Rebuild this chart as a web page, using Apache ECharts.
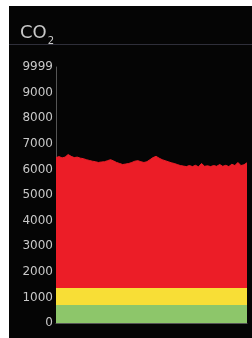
<!DOCTYPE html>
<html>
<head>
<meta charset="utf-8">
<script src="https://cdn.jsdelivr.net/npm/echarts@6/dist/echarts.min.js"></script>
<style>
    html, body { margin: 0; padding: 0; background: #fff; }
    #chart { width: 252px; height: 338px; }
</style>
</head>
<body>
<div id="chart"></div>
<script>
// CO2 readings (ppm), left to right
var co2Values = [
    6460, 6500, 6450, 6480, 6580, 6510, 6460, 6480, 6440, 6420,
    6380, 6350, 6320, 6300, 6270, 6290, 6300, 6340, 6380, 6330,
    6270, 6230, 6190, 6210, 6230, 6270, 6320, 6340, 6300, 6270,
    6300, 6380, 6460, 6510, 6440, 6380, 6340, 6300, 6260, 6230,
    6190, 6150, 6130, 6110, 6150, 6110, 6160, 6100, 6230, 6120,
    6140, 6110, 6150, 6120, 6190, 6120, 6160, 6110, 6200, 6150,
    6270, 6150, 6180, 6260
]
var categories = co2Values.map(function (v, i) { return String(i + 1) })
// colour bands: good / moderate / bad
var bandLimits = [700, 1350]
var bandColors = ['#8DC66A', '#F8DE36', '#EC1D27']
var yTicks = [0, 1000, 2000, 3000, 4000, 5000, 6000, 7000, 8000, 9000, 10000]
var yTopLabel = '9999'

var chart = echarts.init(document.getElementById('chart'))
var option = {
    backgroundColor: '#fff',
    animation: false,
    graphic: [
        { type: 'rect', z: -10, shape: { x: 9, y: 6, width: 243, height: 332 }, style: { fill: '#050505' } },
        { type: 'line', z: -5, shape: { x1: 9, y1: 44.5, x2: 252, y2: 44.5 }, style: { stroke: '#2f2f3a', lineWidth: 1 } }
    ],
    title: {
        text: '{a|CO}{b|2}',
        left: 15,
        top: 18,
        textStyle: {
            fontWeight: 'normal',
            rich: {
                a: { fontSize: 18, fontWeight: 'normal', color: '#c8c8c8', fontFamily: 'DejaVu Sans', lineHeight: 20 },
                b: { fontSize: 10, fontWeight: 'normal', color: '#c8c8c8', fontFamily: 'DejaVu Sans', lineHeight: 20, verticalAlign: 'bottom', padding: [0, 0, -3, 1] }
            }
        }
    },
    grid: { left: 56, right: 5, top: 67, bottom: 15 },
    visualMap: {
        type: 'piecewise',
        show: false,
        dimension: 1,
        seriesIndex: 0,
        pieces: [
            { lte: bandLimits[0], color: bandColors[0] },
            { gt: bandLimits[0], lte: bandLimits[1], color: bandColors[1] },
            { gt: bandLimits[1], color: bandColors[2] }
        ]
    },
    xAxis: {
        type: 'category',
        data: categories,
        boundaryGap: false,
        axisLine: { show: true, lineStyle: { color: '#555', width: 1 } },
        axisTick: { show: false },
        axisLabel: { show: false },
        splitLine: { show: false }
    },
    yAxis: {
        type: 'value',
        min: yTicks[0],
        max: yTicks[yTicks.length - 1],
        interval: 1000,
        axisLine: { show: true, lineStyle: { color: '#555', width: 1 } },
        axisTick: { show: false },
        splitLine: { show: false },
        axisLabel: {
            color: '#c8c8c8',
            fontSize: 12,
            fontFamily: 'DejaVu Sans',
            margin: 3,
            formatter: function (v) {
                return v === yTicks[yTicks.length - 1] ? yTopLabel : String(v)
            }
        }
    },
    series: [{
        type: 'line',
        data: co2Values,
        showSymbol: false,
        symbol: 'none',
        lineStyle: { width: 1 },
        areaStyle: { opacity: 1 }
    }]
}
chart.setOption(option)
</script>
</body>
</html>
